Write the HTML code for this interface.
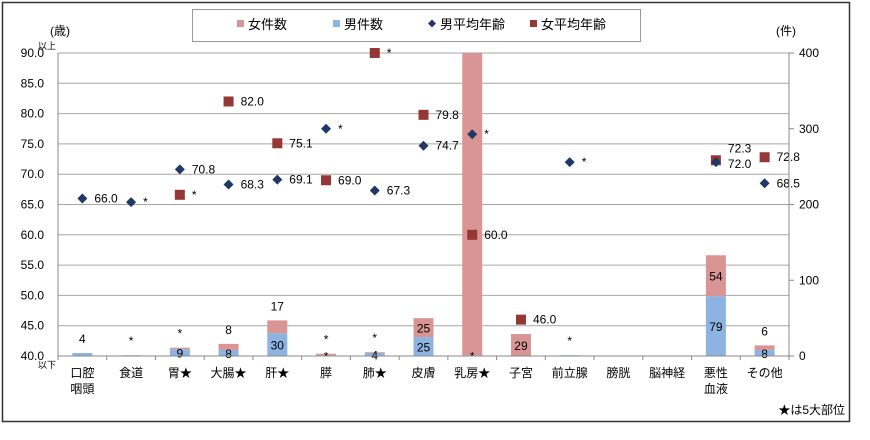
<!DOCTYPE html>
<html><head><meta charset="utf-8"><style>
body{margin:0;background:#fff;font-family:"Liberation Sans","Noto Sans CJK JP",sans-serif}
svg text{font-family:"Liberation Sans","Noto Sans CJK JP",sans-serif}
</style></head><body>
<svg id="c" width="870" height="435" xmlns="http://www.w3.org/2000/svg">
<rect x="2.5" y="2.5" width="847" height="419" fill="#fff" stroke="#333" stroke-width="1.5"/>
<g>
<rect x="192.5" y="9.5" width="448" height="32" fill="#fff" stroke="#999"/>
<rect x="237" y="20" width="7" height="7" fill="#d99594"/>
<text x="248" y="29" font-size="13">女件数</text>
<rect x="333" y="20" width="7" height="7" fill="#8db3e2"/>
<text x="344" y="29" font-size="13">男件数</text>
<path d="M432 19.5 L436 23.5 L432 27.5 L428 23.5Z" fill="#1f3864"/>
<text x="440" y="29" font-size="13">男平均年齢</text>
<rect x="530" y="20" width="7" height="7" fill="#953735"/>
<text x="541" y="29" font-size="13">女平均年齢</text>
</g>
<text x="50" y="35" font-size="12">(歳)</text>
<text x="776" y="35" font-size="12">(件)</text>
<text x="38" y="49" font-size="9">以上</text>
<text x="38" y="368" font-size="9">以下</text>
<text x="845" y="414" font-size="12" text-anchor="end">★は5大部位</text>
<g id="grid"></g><g id="bars"></g><g id="marks"></g><g id="axes"></g>
</svg>
<script>
const categories=[["口腔","咽頭"],["食道"],["胃★"],["大腸★"],["肝★"],["膵"],["肺★"],["皮膚"],["乳房★"],["子宮"],["前立腺"],["膀胱"],["脳神経"],["悪性","血液"],["その他"]];
const maleCount=[4,1,9,8,30,1,4,25,1,0,1,0,0,79,8];
const femaleCount=[0,0,2,8,17,2,1,25,420,29,0,0,0,54,6];
const maleCountLabel=["4","*","9","8","30","*","4","25","*","","*","","","79","8"];
const femaleCountLabel=["","","*","8","17","*","*","25","","29","","","","54","6"];
const maleAge=[66.0,65.4,70.8,68.3,69.1,77.5,67.3,74.7,76.6,null,72.0,null,null,72.0,68.5];
const maleAgeLabel=["66.0","*","70.8","68.3","69.1","*","67.3","74.7","*","","*","","","72.0","68.5"];
const femaleAge=[null,null,66.6,82.0,75.1,69.0,90.0,79.8,60.0,46.0,null,null,null,72.3,72.8];
const femaleAgeLabel=["","","*","82.0","75.1","69.0","*","79.8","60.0","46.0","","","","72.3","72.8"];
const leftTicks=[40,45,50,55,60,65,70,75,80,85,90];
const rightTicks=[0,100,200,300,400];
</script>
<script>
const NS="http://www.w3.org/2000/svg";
const L=58,R=789,T=53,B=356;
const n=categories.length, bw=(R-L)/n;
const cx=i=>L+bw*(i+0.5);
const yA=v=>B-(v-40)/50*(B-T);
const yC=v=>B-Math.min(v,400)/400*(B-T);
function mk(tag,a,p,txt){const e=document.createElementNS(NS,tag);for(const k in a)e.setAttribute(k,a[k]);if(txt!==undefined)e.textContent=txt;p.appendChild(e);return e;}
const g=document.getElementById('grid'),bars=document.getElementById('bars'),marks=document.getElementById('marks'),ax=document.getElementById('axes');
leftTicks.forEach(t=>{const y=yA(t);
 const l=mk('line',{x1:L,x2:R,y1:y,y2:y,stroke:'#a6a6a6'},g);
 
 const tx=mk('text',{x:L-14,y:y+4,'font-size':12,'text-anchor':'end'},ax,t.toFixed(1));
 });
rightTicks.forEach(t=>{const y=yC(t);
 const tx=mk('text',{x:R+10,y:y+4,'font-size':12},ax,String(t));
 
 const tk=mk('line',{x1:R,x2:R+5,y1:y,y2:y,stroke:'#888'},ax);
 });
const a1=mk('line',{x1:L,x2:L,y1:T,y2:B,stroke:'#888'},ax);
const a2=mk('line',{x1:R,x2:R,y1:T,y2:B,stroke:'#888'},ax);
const a3=mk('line',{x1:L,x2:R,y1:B,y2:B,stroke:'#888'},ax);
for(let i=0;i<=n;i++){const x=L+bw*i;const t=mk('line',{x1:x,x2:x,y1:B,y2:B+4,stroke:'#888'},ax);}
categories.forEach((c,i)=>{c.forEach((s,j)=>{const t=mk('text',{x:cx(i),y:B+21+j*16,'font-size':12,'text-anchor':'middle'},ax,s);});});
const BW=20;
categories.forEach((c,i)=>{
 const m=maleCount[i],f=femaleCount[i];const ym=yC(m),yt=yC(m+f);
 if(m>0){const r=mk('rect',{x:cx(i)-BW/2,y:ym,width:BW,height:B-ym,fill:'#8db3e2'},bars);}
 if(f>0){const r=mk('rect',{x:cx(i)-BW/2,y:yt,width:BW,height:ym-yt,fill:'#d99594'},bars);}
 if(maleCountLabel[i]){const top=!(f>0);const h=B-ym;const y=(top&&h<14)?ym-10:ym+h/2+5;
  const t=mk('text',{x:cx(i),y:y,'font-size':12,'text-anchor':'middle'},bars,maleCountLabel[i]);}
 if(femaleCountLabel[i]){const h=ym-yt;const y=h<14?yt-10:yt+h/2+5;
  const t=mk('text',{x:cx(i),y:y,'font-size':12,'text-anchor':'middle'},bars,femaleCountLabel[i]);}
});
categories.forEach((c,i)=>{
 if(femaleAge[i]!=null){const x=cx(i),y=yA(femaleAge[i]);
  const r=mk('rect',{x:x-5,y:y-5,width:10,height:10,fill:'#953735'},marks);
  const dy=(maleAge[i]!=null&&Math.abs(maleAge[i]-femaleAge[i])<1)?-8:4;
  const t=mk('text',{x:x+12,y:y+dy,'font-size':12},marks,femaleAgeLabel[i]);}
 if(maleAge[i]!=null){const x=cx(i),y=yA(maleAge[i]);
  const p=mk('path',{d:`M${x} ${y-5}L${x+5} ${y}L${x} ${y+5}L${x-5} ${y}Z`,fill:'#1f3864'},marks);
  const dy=(femaleAge[i]!=null&&Math.abs(maleAge[i]-femaleAge[i])<1)?6:4;
  const t=mk('text',{x:x+12,y:y+dy,'font-size':12},marks,maleAgeLabel[i]);}
});
</script>
</body></html>
